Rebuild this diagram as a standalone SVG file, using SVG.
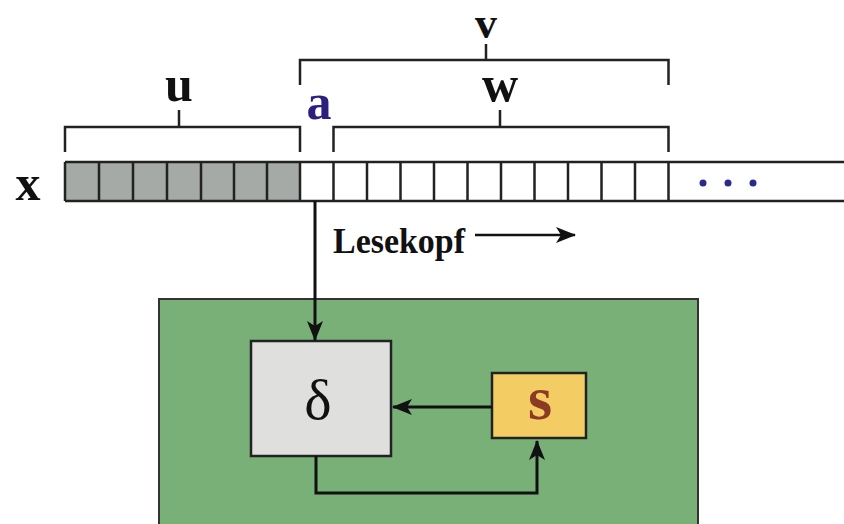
<svg xmlns="http://www.w3.org/2000/svg" width="844" height="524" viewBox="0 0 844 524">
<style>
.lbl{font-family:"Liberation Serif","Times New Roman",serif;font-weight:bold;fill:#111;text-anchor:middle}
.br{fill:none;stroke:#222;stroke-width:2.5}
.cell{stroke:#222;stroke-width:2.5}
.con{fill:none;stroke:#111;stroke-width:3}
</style>
<defs>
<marker id="ah" viewBox="0 0 20 16" refX="19" refY="8" markerWidth="20" markerHeight="16" markerUnits="userSpaceOnUse" orient="auto">
<path d="M0,0 L20,8 L0,16 L5,8 Z" fill="#111"/>
</marker>
</defs>
<rect width="844" height="524" fill="#fff"/>

<g id="tape">
<rect x="65" y="162" width="235" height="39" fill="#a5aaa6"/>
<path d="M65,162 H844 M65,201 H844" class="cell"/>
<path d="M65,162 V201 M99,162 V201 M133,162 V201 M167,162 V201 M201,162 V201 M234,162 V201 M267,162 V201 M300,162 V201 M333.5,162 V201 M367,162 V201 M400.5,162 V201 M434,162 V201 M467.5,162 V201 M501,162 V201 M534.5,162 V201 M568,162 V201 M601.5,162 V201 M635,162 V201 M668.5,162 V201" class="cell"/>
<circle cx="703" cy="183" r="3.5" fill="#2a2a8a"/>
<circle cx="728" cy="183" r="3.5" fill="#2a2a8a"/>
<circle cx="753" cy="183" r="3.5" fill="#2a2a8a"/>
<text x="28" y="200" class="lbl" font-size="50">x</text>
</g>

<g id="bracket-u">
<path d="M65,152 V127 H300 V152 M179,127 V110" class="br"/>
<text x="179" y="101" class="lbl" font-size="50">u</text>
</g>
<g id="bracket-v">
<path d="M300,85 V60 H668.5 V85 M486,60 V44" class="br"/>
<text x="486" y="38" class="lbl" font-size="44">v</text>
</g>
<g id="bracket-w">
<path d="M333.5,152 V127 H668.5 V152 M500,127 V110" class="br"/>
<text x="500" y="101" class="lbl" font-size="50">w</text>
</g>
<g id="symbol-a">
<text x="319" y="119" class="lbl" font-size="50" style="fill:#2c1f80">a</text>
</g>

<g id="lesekopf">
<text x="333" y="253" font-family="Liberation Serif, serif" font-weight="bold" font-size="35" fill="#111" textLength="132" lengthAdjust="spacingAndGlyphs">Lesekopf</text>
<line x1="475" y1="235" x2="575" y2="235" stroke="#111" stroke-width="2.5" marker-end="url(#ah)"/>
</g>

<g id="machine">
<rect x="159" y="299" width="539" height="240" fill="#79b078" stroke="#333" stroke-width="2"/>
</g>
<g id="delta">
<rect x="251" y="341" width="140" height="115" fill="#dfe0de" stroke="#222" stroke-width="2.5"/>
<text x="318" y="419" font-family="Liberation Serif, serif" font-size="58" fill="#111" text-anchor="middle">δ</text>
</g>
<g id="state-s">
<rect x="492" y="373" width="94" height="65" fill="#f3cd64" stroke="#222" stroke-width="2.5"/>
<text x="540" y="419" class="lbl" font-size="62" style="fill:#8b3a24">s</text>
</g>

<g id="connectors">
<path d="M315,201 V340" class="con" marker-end="url(#ah)"/>
<path d="M492,407 H393" class="con" marker-end="url(#ah)"/>
<path d="M316,456 V493 H537 V441" class="con" marker-end="url(#ah)"/>
</g>
</svg>
